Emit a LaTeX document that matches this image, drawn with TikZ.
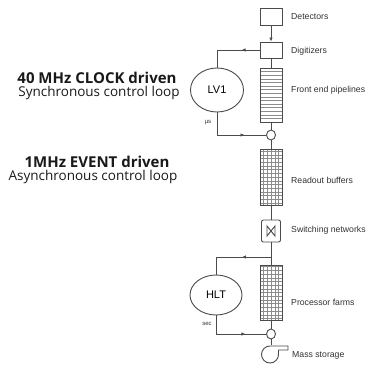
\documentclass[tikz,border=0pt]{standalone}
\usepackage{fontspec}
\setmainfont{Liberation Sans}
\newfontfamily\headfont{Open Sans}
\usepackage{tikz}
\usetikzlibrary{shapes.geometric,arrows.meta,decorations.markings}
\definecolor{linecolor}{RGB}{75,75,75}
\definecolor{labelcolor}{RGB}{50,50,50}
\definecolor{gridcolor}{RGB}{140,140,140}

\begin{document}
\begin{tikzpicture}[x=1pt,y=-1pt,
    unit/.style={draw=linecolor, line width=0.9pt, fill=white, inner sep=0pt, minimum width=22pt},
    pipe/.style={unit, path picture={
        \foreach \k in {1,...,14}
          \draw[gridcolor, line width=0.5pt] ([yshift=-\k*3.6pt]path picture bounding box.north west) -- ([yshift=-\k*3.6pt]path picture bounding box.north east);}},
    mesh/.style={unit, path picture={
        \draw[gridcolor, line width=0.4pt, xstep=3.7pt, ystep=3.7pt] (path picture bounding box.south west) grid (path picture bounding box.north east);}},
    trigger/.style={ellipse, draw=linecolor, line width=0.9pt, inner sep=0pt, font=\fontsize{11}{12}\selectfont},
    knot/.style={ellipse, draw=linecolor, line width=0.9pt, fill=white, inner sep=0pt, minimum width=9pt, minimum height=10pt},
    conn/.style={draw=linecolor, line width=0.9pt},
    midarrow/.style={postaction={decorate}, decoration={markings, mark=at position #1 with {\arrow{Latex[length=4pt,width=3.5pt]}}}},
    label/.style={anchor=west, inner sep=0pt, text=labelcolor, font=\fontsize{8.7}{10}\selectfont},
    tiny/.style={inner sep=0pt, text=labelcolor, font=\fontsize{6}{7}\selectfont},
    head/.style={inner sep=0pt, text=black!90, font=\headfont\bfseries\fontsize{15}{17}\selectfont},
    sub/.style={inner sep=0pt, text=black!90, font=\headfont\fontsize{13.5}{15}\selectfont}]
  \useasboundingbox (0,0) rectangle (372,370);

  \node[unit, minimum height=17pt] (det) at (271,16.5) {};
  \node[unit, minimum height=16pt] (dig) at (271,50) {};
  \node[pipe, minimum height=54pt] (fep) at (271,95) {};
  \node[knot] (c1) at (271,135) {};
  \node[mesh, minimum height=56pt] (rob) at (271,177) {};
  \node[unit, rounded corners=2pt, minimum width=19pt, minimum height=22pt] (sw) at (271,231) {};
  \coordinate (j2) at (271,257);
  \node[mesh, minimum height=55pt] (pf) at (271,292.5) {};
  \node[knot] (c2) at (271,334) {};
  \node[inner sep=0pt, minimum width=27pt, minimum height=18pt] (ms) at (274.5,354.5) {};

  \node[trigger, minimum width=53pt, minimum height=44pt] (lv1) at (217,90) {LV1};
  \node[trigger, minimum width=52pt, minimum height=40pt] (hlt) at (216,295) {HLT};

  \draw[conn, shift={(sw.center)}] (-4,-5) -- (-4,5) -- (4,-5) -- (4,5) -- cycle;
  \draw[conn, fill=white, shift={(ms.center)}] (13.5,-8.5) -- (-4.5,-8.5)
    .. controls (-9.2,-8.5) and (-13,-4.7) .. (-13,0)
    .. controls (-13,4.7) and (-9.2,8.5) .. (-4.5,8.5)
    .. controls (0.2,8.5) and (4,4.7) .. (4,0) -- (4,-4.5) -- (13.5,-4.5) -- cycle;

  \draw[conn, -{Latex[length=4pt,width=3.5pt]}] (det) -- (dig);
  \draw[conn] (dig) -- (fep);
  \draw[conn] (fep) -- (c1);
  \draw[conn] (c1) -- (rob);
  \draw[conn] (rob) -- (sw);
  \draw[conn] (sw) -- (pf);
  \draw[conn] (pf) -- (c2);
  \draw[conn] (c2) -- (c2 |- ms.north);
  \draw[conn, midarrow=0.3] (dig.west) -| (lv1);
  \draw[conn, midarrow=0.7] (lv1) |- (c1);
  \draw[conn, midarrow=0.4] (j2) -| (hlt);
  \draw[conn, midarrow=0.7] (hlt) |- (c2);

  \node[tiny] (us) at (208,123) {µs};
  \node[tiny] (sec) at (207,324) {sec};

  \node[label] (ldet) at (291,17) {Detectors};
  \node[label] (ldig) at (291,51) {Digitizers};
  \node[label] (lfep) at (291,90) {Front end pipelines};
  \node[label] (lrob) at (291,180) {Readout buffers};
  \node[label] (lsw) at (291,230) {Switching networks};
  \node[label] (lpf) at (291,302) {Processor farms};
  \node[label] (lms) at (292,355) {Mass storage};

  \node[head] (clock) at (97,78) {40 MHz CLOCK driven};
  \node[sub] (sync) at (99,93) {Synchronous control loop};
  \node[head] (event) at (97,162) {1MHz EVENT driven};
  \node[sub] (async) at (93,177) {Asynchronous control loop};
\end{tikzpicture}
\end{document}
